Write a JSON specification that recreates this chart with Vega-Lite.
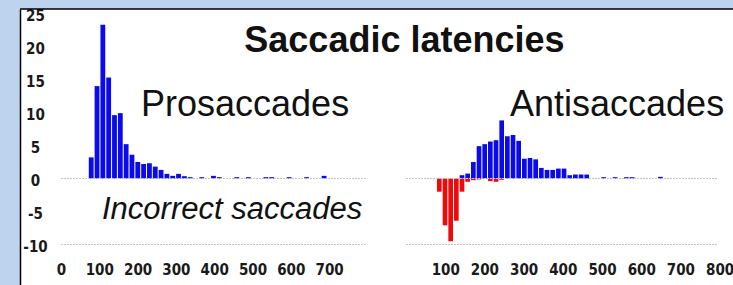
{
  "$schema": "https://vega.github.io/schema/vega-lite/v6.json",
  "background": "#bdd3ee",
  "padding": {"left": 19, "top": 8, "right": 0, "bottom": 0},
  "bounds": "flush",
  "spacing": 0,
  "config": {
    "view": {"fill": "white", "stroke": null},
    "axis": {
      "labelFont": "Liberation Sans Narrow, Arial Narrow, DejaVu Sans Condensed, sans-serif",
      "labelFontWeight": "bold",
      "labelColor": "#1a1a1a",
      "labelOverlap": false,
      "labelFlush": false,
      "labelBound": false,
      "minExtent": 0,
      "grid": false,
      "title": null
    },
    "text": {"font": "Liberation Sans, Arial, sans-serif", "color": "#111111"}
  },
  "datasets": {
    "left": [
      {"lo": 70, "hi": 85.2, "value": 3.2, "type": "correct"},
      {"lo": 85.2, "hi": 100.4, "value": 14.0, "type": "correct"},
      {"lo": 100.4, "hi": 115.6, "value": 23.3, "type": "correct"},
      {"lo": 115.6, "hi": 130.8, "value": 15.3, "type": "correct"},
      {"lo": 130.8, "hi": 146, "value": 9.6, "type": "correct"},
      {"lo": 146, "hi": 161.2, "value": 9.9, "type": "correct"},
      {"lo": 161.2, "hi": 176.4, "value": 5.2, "type": "correct"},
      {"lo": 176.4, "hi": 191.6, "value": 3.6, "type": "correct"},
      {"lo": 191.6, "hi": 206.8, "value": 2.5, "type": "correct"},
      {"lo": 206.8, "hi": 222, "value": 2.2, "type": "correct"},
      {"lo": 222, "hi": 237.2, "value": 2.3, "type": "correct"},
      {"lo": 237.2, "hi": 252.4, "value": 1.8, "type": "correct"},
      {"lo": 252.4, "hi": 267.6, "value": 1.3, "type": "correct"},
      {"lo": 267.6, "hi": 282.8, "value": 0.7, "type": "correct"},
      {"lo": 282.8, "hi": 298, "value": 0.4, "type": "correct"},
      {"lo": 298, "hi": 313.2, "value": 0.7, "type": "correct"},
      {"lo": 313.2, "hi": 328.4, "value": 0.35, "type": "correct"},
      {"lo": 328.4, "hi": 343.6, "value": 0.2, "type": "correct"},
      {"lo": 358.8, "hi": 374, "value": 0.2, "type": "correct"},
      {"lo": 389.2, "hi": 404.4, "value": 0.4, "type": "correct"},
      {"lo": 404.4, "hi": 419.6, "value": 0.2, "type": "correct"},
      {"lo": 450, "hi": 465.2, "value": 0.2, "type": "correct"},
      {"lo": 480.4, "hi": 495.6, "value": 0.2, "type": "correct"},
      {"lo": 526, "hi": 541.2, "value": 0.2, "type": "correct"},
      {"lo": 541.2, "hi": 556.4, "value": 0.2, "type": "correct"},
      {"lo": 586.8, "hi": 602, "value": 0.2, "type": "correct"},
      {"lo": 632.4, "hi": 647.6, "value": 0.2, "type": "correct"},
      {"lo": 678, "hi": 693.2, "value": 0.4, "type": "correct"}
    ],
    "right": [
      {"lo": 76.5, "hi": 91.0, "value": -2.0, "type": "error"},
      {"lo": 91.0, "hi": 105.4, "value": -7.1, "type": "error"},
      {"lo": 105.4, "hi": 119.9, "value": -9.5, "type": "error"},
      {"lo": 119.9, "hi": 134.3, "value": -6.4, "type": "error"},
      {"lo": 134.3, "hi": 148.8, "value": -2.0, "type": "error"},
      {"lo": 148.8, "hi": 163.3, "value": -0.5, "type": "error"},
      {"lo": 163.3, "hi": 177.7, "value": -0.25, "type": "error"},
      {"lo": 177.7, "hi": 192.2, "value": -0.15, "type": "error"},
      {"lo": 206.6, "hi": 221.1, "value": -0.4, "type": "error"},
      {"lo": 221.1, "hi": 235.6, "value": -0.5, "type": "error"},
      {"lo": 235.6, "hi": 250.0, "value": -0.2, "type": "error"},
      {"lo": 134.3, "hi": 148.8, "value": 0.5, "type": "correct"},
      {"lo": 148.8, "hi": 163.3, "value": 0.75, "type": "correct"},
      {"lo": 163.3, "hi": 177.7, "value": 2.5, "type": "correct"},
      {"lo": 177.7, "hi": 192.2, "value": 4.9, "type": "correct"},
      {"lo": 192.2, "hi": 206.6, "value": 5.2, "type": "correct"},
      {"lo": 206.6, "hi": 221.1, "value": 5.6, "type": "correct"},
      {"lo": 221.1, "hi": 235.6, "value": 5.8, "type": "correct"},
      {"lo": 235.6, "hi": 250.0, "value": 8.8, "type": "correct"},
      {"lo": 250.0, "hi": 264.5, "value": 6.4, "type": "correct"},
      {"lo": 264.5, "hi": 278.9, "value": 6.6, "type": "correct"},
      {"lo": 278.9, "hi": 293.4, "value": 5.7, "type": "correct"},
      {"lo": 293.4, "hi": 307.9, "value": 3.0, "type": "correct"},
      {"lo": 307.9, "hi": 322.3, "value": 3.1, "type": "correct"},
      {"lo": 322.3, "hi": 336.8, "value": 2.9, "type": "correct"},
      {"lo": 336.8, "hi": 351.2, "value": 1.6, "type": "correct"},
      {"lo": 351.2, "hi": 365.7, "value": 1.3, "type": "correct"},
      {"lo": 365.7, "hi": 380.2, "value": 1.3, "type": "correct"},
      {"lo": 380.2, "hi": 394.6, "value": 1.5, "type": "correct"},
      {"lo": 394.6, "hi": 409.1, "value": 1.5, "type": "correct"},
      {"lo": 409.1, "hi": 423.5, "value": 0.5, "type": "correct"},
      {"lo": 423.5, "hi": 438.0, "value": 0.6, "type": "correct"},
      {"lo": 438.0, "hi": 452.5, "value": 0.6, "type": "correct"},
      {"lo": 452.5, "hi": 466.9, "value": 0.6, "type": "correct"},
      {"lo": 495.8, "hi": 510.3, "value": 0.2, "type": "correct"},
      {"lo": 524.8, "hi": 539.2, "value": 0.2, "type": "correct"},
      {"lo": 553.7, "hi": 568.1, "value": 0.2, "type": "correct"},
      {"lo": 568.1, "hi": 582.6, "value": 0.2, "type": "correct"},
      {"lo": 640.4, "hi": 654.9, "value": 0.25, "type": "correct"}
    ]
  },
  "hconcat": [
    {
      "width": 367,
      "height": 277,
      "encoding": {
        "y": {
          "field": "value", "type": "quantitative",
          "scale": {"domain": [-16.29, 25.68], "nice": false, "zero": false},
          "axis": {
            "orient": "left", "domain": true, "domainColor": "black", "domainWidth": 1.5,
            "ticks": false, "tickSize": 0, "labelPadding": -15, "labelAlign": "center",
            "labelBaseline": "middle", "labelOffset": 2, "labelFontSize": 15,
            "labelOverlap": false, "minExtent": 0, "tickCount": 8,
            "labelExpr": "'' + datum.value",
            "values": [-10, -5, 0, 5, 10, 15, 20, 25]
          }
        }
      },
      "layer": [
        {
          "data": {"name": "left"},
          "mark": {"type": "bar"},
          "encoding": {
            "x": {
              "field": "lo", "type": "quantitative", "bin": "binned",
              "scale": {"domain": [-107, 851.2], "nice": false, "zero": false},
              "axis": {
                "orient": "bottom", "offset": -41.5, "domain": false, "ticks": false, "tickSize": 0,
                "labelPadding": 18, "labelFontSize": 15, "labelOverlap": false,
                "values": [0, 100, 200, 300, 400, 500, 600, 700]
              }
            },
            "x2": {"field": "hi"},
            "color": {
              "field": "type", "type": "nominal",
              "scale": {"domain": ["correct", "error"], "range": ["#0a0aeb", "#ee0a0a"]},
              "legend": null
            }
          }
        },
        {
          "data": {"values": [{"value": 0}, {"value": -10}]},
          "mark": {"type": "rule", "color": "#c4c4c4", "strokeWidth": 1, "strokeDash": [2, 1]},
          "encoding": {
            "x": {"datum": 0, "type": "quantitative"},
            "x2": {"datum": 800}
          }
        },
        {
          "data": {"values": [{"value": 25.68}]},
          "mark": {"type": "rule", "color": "black", "strokeWidth": 1.5},
          "encoding": {}
        },
        {
          "data": {"values": [{"value": 9.47, "x": 209, "label": "Prosaccades"}]},
          "mark": {"type": "text", "fontSize": 36, "align": "left", "baseline": "alphabetic"},
          "encoding": {"x": {"field": "x", "type": "quantitative"}, "text": {"field": "label"}}
        },
        {
          "data": {"values": [{"value": -6.14, "x": 107, "label": "Incorrect saccades"}]},
          "mark": {"type": "text", "fontSize": 31, "fontStyle": "italic", "align": "left", "baseline": "alphabetic"},
          "encoding": {"x": {"field": "x", "type": "quantitative"}, "text": {"field": "label"}}
        }
      ]
    },
    {
      "width": 347,
      "height": 277,
      "encoding": {
        "y": {
          "field": "value", "type": "quantitative",
          "scale": {"domain": [-16.29, 25.68], "nice": false, "zero": false},
          "axis": null
        }
      },
      "layer": [
        {
          "data": {"name": "right"},
          "mark": {"type": "bar"},
          "encoding": {
            "x": {
              "field": "lo", "type": "quantitative", "bin": "binned",
              "scale": {"domain": [-48.5, 836.7], "nice": false, "zero": false},
              "axis": {
                "orient": "bottom", "offset": -41.5, "domain": false, "ticks": false, "tickSize": 0,
                "labelPadding": 18, "labelFontSize": 15, "labelOverlap": false,
                "values": [100, 200, 300, 400, 500, 600, 700, 800]
              }
            },
            "x2": {"field": "hi"},
            "color": {
              "field": "type", "type": "nominal",
              "scale": {"domain": ["correct", "error"], "range": ["#0a0aeb", "#ee0a0a"]},
              "legend": null
            }
          }
        },
        {
          "data": {"values": [{"value": 0}, {"value": -10}]},
          "mark": {"type": "rule", "color": "#c4c4c4", "strokeWidth": 1, "strokeDash": [2, 1]},
          "encoding": {
            "x": {"datum": 0, "type": "quantitative"},
            "x2": {"datum": 795}
          }
        },
        {
          "data": {"values": [{"value": 25.68}]},
          "mark": {"type": "rule", "color": "black", "strokeWidth": 1.5},
          "encoding": {}
        },
        {
          "data": {"values": [{"value": 9.47, "x": 265.3, "label": "Antisaccades"}]},
          "mark": {"type": "text", "fontSize": 36, "align": "left", "baseline": "alphabetic"},
          "encoding": {"x": {"field": "x", "type": "quantitative"}, "text": {"field": "label"}}
        },
        {
          "data": {"values": [{"value": 19.17, "x": -412.5, "label": "Saccadic latencies"}]},
          "mark": {"type": "text", "fontSize": 36, "fontWeight": "bold", "align": "left", "baseline": "alphabetic"},
          "encoding": {"x": {"field": "x", "type": "quantitative"}, "text": {"field": "label"}}
        }
      ]
    }
  ]
}
